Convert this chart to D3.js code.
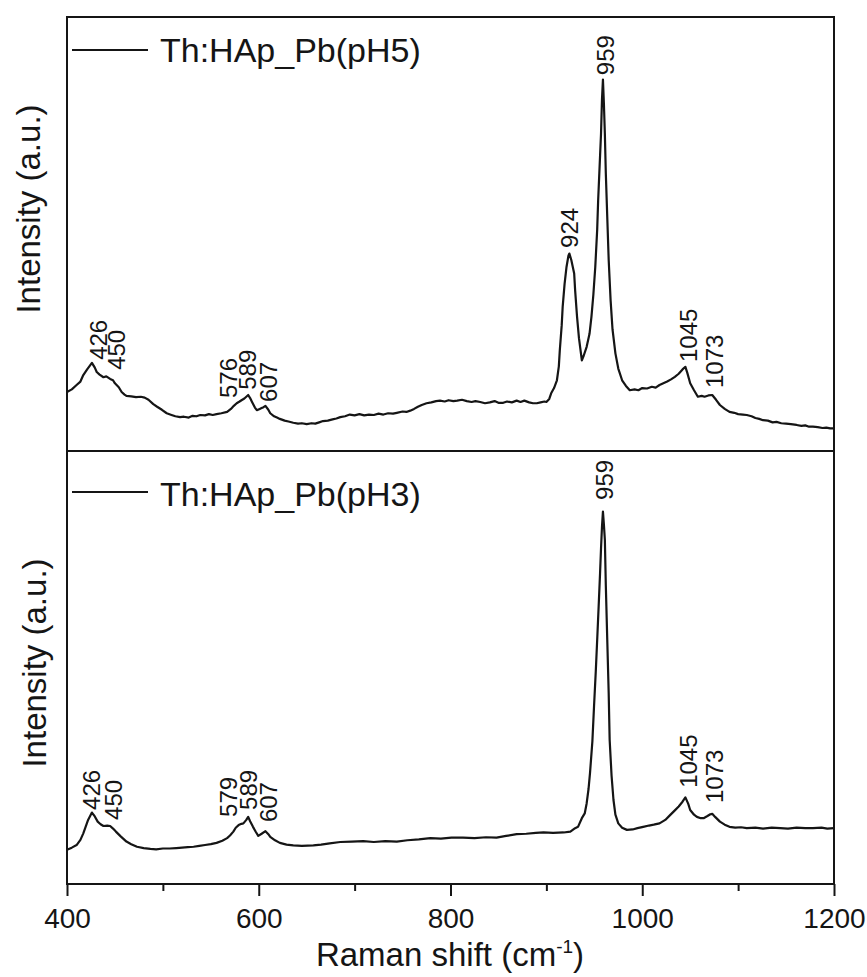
<!DOCTYPE html>
<html>
<head>
<meta charset="utf-8">
<script src="https://cdn.jsdelivr.net/npm/d3@7/dist/d3.min.js"></script>
<style>
  html, body { margin: 0; padding: 0; background: #fff; }
  svg { display: block; font-family: "Liberation Sans", Arial, sans-serif; }
</style>
</head>
<body>
<svg id="chart" width="867" height="977"></svg>
<script>
// ---------- DATA ----------
const seriesNames = ["Th:HAp_Pb(pH5)", "Th:HAp_Pb(pH3)"];

const wavenumberPH5 = [400,405,410,414,417,421,426,429,431,434,438,441,445,448,450,454,457,460,462,467,472,477,481,485,490,494,499,504,509,513,518,522,527,531,535,539,544,548,552,556,561,567,571,574,577,580,582,585,589,591,593,596,598,601,603,605,607,610,612,616,619,622,627,631,636,641,645,650,655,659,663,667,672,677,681,685,690,695,700,705,710,715,720,725,730,735,740,744,750,754,758,762,766,770,775,780,785,789,794,798,803,807,812,817,822,826,831,836,841,846,850,855,859,864,869,873,877,882,886,890,894,898,900,903,905,908,911,913,914,916,917,919,921,923,924,926,929,930,932,934,937,939,942,945,947,949,951,953,954,956,957,958,959,960,961,962,963.5,965,967,969,972,975,979,983,987,992,996,1000,1005,1010,1014,1018,1022,1026,1030,1034,1038,1042,1045,1047,1050,1054,1058,1062,1065,1069,1073,1077,1081,1086,1091,1096,1100,1105,1109,1114,1118,1122,1126,1131,1136,1140,1145,1150,1155,1161,1166,1170,1174,1178,1183,1188,1192,1196,1200];
const intensityPH5 = [136,142,152,160,175,188,203,192,182,176,170,172,166,163,156,147,136,130,127,126,124,125,123,118,108,102,95,87,83,80,78,79,77,81,80,83,82,85,83,85,87,90,97,104,110,114,117,121,129,122,113,100,94,97,99,101,104,95,87,80,77,74,70,68,65,63,64,62,64,63,66,69,70,73,75,78,80,84,82,85,82,84,83,86,84,87,86,88,91,90,93,97,102,106,110,112,115,116,114,117,115,116,118,115,113,115,113,110,112,115,111,111,114,112,116,113,116,112,110,110,112,114,113,120,133,145,163,195,232,290,332,385,424,450,455,440,409,370,309,260,209,220,240,270,309,360,424,510,577,680,731,810,856,800,731,640,539,440,347,280,225,190,163,150,140,142,140,145,144,148,146,152,156,160,165,171,178,188,194,180,156,140,125,127,125,128,129,118,106,97,90,88,85,84,83,80,76,74,71,70,66,67,64,63,62,60,58,59,56,56,55,53,54,52,52];

const wavenumberPH3 = [400,405,410,414,417,422,426,429,432,435,438,442,445,448,451,456,462,467,473,480,487,493,500,507,514,520,526,532,538,544,550,556,562,567,570,573.5,576,579,582,584,587,589,591,594,597,599.5,603,607,610,612,617,622,629,636,645,657,665,674,685,697,709,720,732,744,755,767,779,790,801,813,825,837,848,858,869,879,889,897,907,918,925,930,933,937,940,942,944,945.5,948,949.7,951.5,953,954.5,956,957,958,959,960,961,962,963.5,965,966,968,970,972,975,979,984,990,995,1001,1007,1012,1018,1024,1029,1034,1038,1042,1045,1048,1050,1054,1057,1061,1064,1068,1071,1073,1076,1081,1086,1091,1097,1103,1109,1118,1126,1135,1144,1152,1161,1170,1178,1187,1193,1200];
const intensityPH3 = [79,84,90,102,117,148,165,156,144,138,134,135,134,128,121,110,98,92,86,83,81,80,82,82,83,84,85,86,88,90,92,95,100,106,112,121,130,136,139,140,148,155,145,132,120,111,116,122,115,109,101,95,91,89,88,89,91,94,97,98,99,97,99,98,101,103,106,105,107,107,106,108,107,111,115,116,118,119,118,119,121,129,132,152,163,186,220,256,330,410,490,564,640,718,775,825,860,830,795,690,564,440,333,250,194,160,140,130,125,126,129,132,135,137,140,148,159,170,179,190,200,185,171,160,155,152,152,157,161,162,155,144,137,132,130,131,129,130,128,130,129,128,130,129,129,130,128,129];

// peak annotations: label, anchor wavenumber, anchor intensity (a.u.)
const peakLabelsPH5 = ["426","450","576","589","607","924","959","1045","1073"];
const peakXPH5 = [441.7, 460.5, 577.3, 597.1, 619, 933, 970.8, 1056.8, 1084.2];
const peakYPH5 = [210, 187, 122, 141, 113, 468, 866, 205, 145];

const peakLabelsPH3 = ["426","450","579","589","607","959","1045","1073"];
const peakXPH3 = [434.4, 457.4, 577.3, 598.2, 619, 969.7, 1056.8, 1084.2];
const peakYPH3 = [171, 148, 155, 171, 143, 887, 222, 187];

const majorTicks = [400, 600, 800, 1000, 1200];
const minorTicks = [500, 700, 900, 1100];
const xDomain = [400, 1200];
const yDomain = [0, 1000];

// ---------- LAYOUT ----------
const L = 67, R = 834, T = 17, MID = 451, B = 884;
const svg = d3.select("#chart");
svg.append("rect").attr("width", 867).attr("height", 977).attr("fill", "#fff");

const x = d3.scaleLinear().domain(xDomain).range([L, R]);
const yTop = d3.scaleLinear().domain(yDomain).range([MID, T]);
const yBot = d3.scaleLinear().domain(yDomain).range([B, MID]);

const ink = "#151515";

const panels = [
  { name: seriesNames[0], xs: wavenumberPH5, ys: intensityPH5, y: yTop,
    labels: peakLabelsPH5, lx: peakXPH5, ly: peakYPH5,
    legendY: T + 33, legendTextY: T + 45, ylabX: 40, ylabY: 209 },
  { name: seriesNames[1], xs: wavenumberPH3, ys: intensityPH3, y: yBot,
    labels: peakLabelsPH3, lx: peakXPH3, ly: peakYPH3,
    legendY: MID + 41, legendTextY: MID + 55, ylabX: 46, ylabY: 663 }
];

panels.forEach(p => {
  const pts = p.xs.map((v, i) => [v, p.ys[i]]);
  const line = d3.line().x(d => x(d[0])).y(d => p.y(d[1]));
  svg.append("path").datum(pts)
    .attr("d", line)
    .attr("fill", "none")
    .attr("stroke", ink)
    .attr("stroke-width", 2.2)
    .attr("stroke-linejoin", "round");

  // peak labels
  p.labels.forEach((lab, i) => {
    svg.append("text")
      .attr("transform", `translate(${x(p.lx[i])},${p.y(p.ly[i])}) rotate(-90)`)
      .attr("font-size", 24)
      .attr("fill", ink)
      .text(lab);
  });

  // legend
  svg.append("line")
    .attr("x1", 72).attr("x2", 148)
    .attr("y1", p.legendY).attr("y2", p.legendY)
    .attr("stroke", ink).attr("stroke-width", 2);
  svg.append("text")
    .attr("x", 160).attr("y", p.legendTextY)
    .attr("font-size", 34).attr("fill", ink)
    .text(p.name);

  // y label
  svg.append("text")
    .attr("transform", `translate(${p.ylabX},${p.ylabY}) rotate(-90)`)
    .attr("text-anchor", "middle")
    .attr("font-size", 33).attr("fill", ink)
    .text("Intensity (a.u.)");
});

// frame
svg.append("rect")
  .attr("x", L).attr("y", T).attr("width", R - L).attr("height", B - T)
  .attr("fill", "none").attr("stroke", ink).attr("stroke-width", 2);
svg.append("line")
  .attr("x1", L).attr("x2", R).attr("y1", MID).attr("y2", MID)
  .attr("stroke", ink).attr("stroke-width", 2);

// bottom axis
const gMajor = svg.append("g").attr("transform", `translate(0,${B})`)
  .call(d3.axisBottom(x).tickValues(majorTicks).tickSize(12).tickPadding(12).tickFormat(d3.format("d")));
const gMinor = svg.append("g").attr("transform", `translate(0,${B})`)
  .call(d3.axisBottom(x).tickValues(minorTicks).tickSize(7).tickFormat(""));
[gMajor, gMinor].forEach(g => {
  g.select(".domain").remove();
  g.selectAll(".tick line").attr("stroke", ink).attr("stroke-width", 2);
});
gMajor.selectAll(".tick text")
  .attr("font-size", 28)
  .attr("font-family", "'Liberation Sans', Arial, sans-serif")
  .attr("fill", ink);

// x title
const xt = svg.append("text")
  .attr("x", 450).attr("y", 966)
  .attr("text-anchor", "middle")
  .attr("font-size", 33).attr("fill", ink);
xt.append("tspan").text("Raman shift (cm");
xt.append("tspan").attr("font-size", 19).attr("dy", -13).text("-1");
xt.append("tspan").attr("dy", 13).text(")");
</script>
</body>
</html>
